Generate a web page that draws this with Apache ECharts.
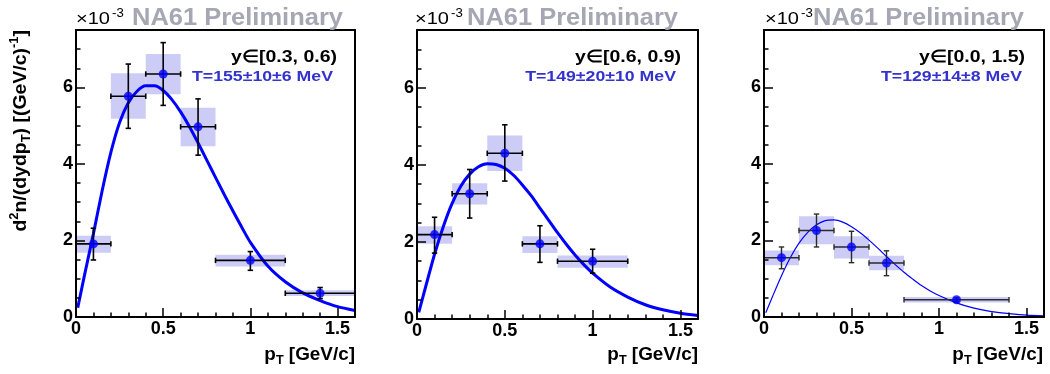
<!DOCTYPE html>
<html><head><meta charset="utf-8">
<script src="https://cdn.jsdelivr.net/npm/echarts@6/dist/echarts.min.js"></script>
<style>html,body{margin:0;padding:0;background:#fff}#c{width:1050px;height:374px}</style>
</head><body><div id="c"></div>
<script>
// ---------------- data (units of 1e-3) ----------------
const rapidityLabels = ['y\u2208[0.3, 0.6)', 'y\u2208[0.6, 0.9)', 'y\u2208[0.0, 1.5)'];
const temperatureLabels = ['T=155\u00b110\u00b16 MeV', 'T=149\u00b120\u00b110 MeV', 'T=129\u00b114\u00b18 MeV'];

const xTickLabels = [0, 0.5, 1, 1.5];
const yTickLabels = [0, 2, 4, 6];

// panel 1 : y in [0.3, 0.6)
const p1Pt      = [0.1, 0.3, 0.5, 0.7, 1.0, 1.4];
const p1BinLo   = [0.0, 0.2, 0.4, 0.6, 0.8, 1.2];
const p1BinHi   = [0.2, 0.4, 0.6, 0.8, 1.2, 1.6];
const p1Val     = [1.91, 5.77, 6.35, 4.97, 1.48, 0.62];
const p1StatLo  = [1.49, 4.93, 5.53, 4.23, 1.22, 0.48];
const p1StatHi  = [2.32, 6.61, 7.17, 5.70, 1.71, 0.77];
const p1SysLo   = [1.68, 5.18, 5.82, 4.46, 1.32, 0.55];
const p1SysHi   = [2.12, 6.37, 6.87, 5.47, 1.63, 0.70];

// panel 2 : y in [0.6, 0.9)
const p2Pt      = [0.1, 0.3, 0.5, 0.7, 1.0];
const p2BinLo   = [0.0, 0.2, 0.4, 0.6, 0.8];
const p2BinHi   = [0.2, 0.4, 0.6, 0.8, 1.2];
const p2Val     = [2.19, 3.25, 4.30, 1.95, 1.50];
const p2StatLo  = [1.71, 2.62, 3.58, 1.47, 1.19];
const p2StatHi  = [2.64, 3.88, 5.04, 2.42, 1.81];
const p2SysLo   = [1.95, 2.97, 3.84, 1.71, 1.33];
const p2SysHi   = [2.41, 3.52, 4.76, 2.15, 1.65];

// panel 3 : y in [0.0, 1.5)
const p3Pt      = [0.1, 0.3, 0.5, 0.7, 1.1];
const p3BinLo   = [0.0, 0.2, 0.4, 0.6, 0.8];
const p3BinHi   = [0.2, 0.4, 0.6, 0.8, 1.4];
const p3Val     = [1.55, 2.26, 1.83, 1.41, 0.45];
const p3StatLo  = [1.26, 1.83, 1.42, 1.08, 0.40];
const p3StatHi  = [1.83, 2.69, 2.24, 1.73, 0.50];
const p3SysLo   = [1.35, 1.90, 1.53, 1.22, 0.38];
const p3SysHi   = [1.74, 2.63, 2.11, 1.60, 0.52];

// fitted curves at these pT values
const fitPt  = [0.01, 0.05, 0.1, 0.15, 0.2, 0.25, 0.3, 0.35, 0.4, 0.45, 0.5, 0.55, 0.6, 0.65, 0.7, 0.75, 0.8, 0.85, 0.9, 0.95, 1.0, 1.1, 1.2, 1.3, 1.4, 1.5, 1.6];
const p1Fit  = [0.24, 1.12, 2.18, 3.30, 4.30, 5.08, 5.60, 5.90, 6.04, 6.04, 5.92, 5.68, 5.36, 4.98, 4.55, 4.10, 3.65, 3.20, 2.77, 2.35, 1.95, 1.33, 0.92, 0.63, 0.43, 0.27, 0.17];
const p2Fit  = [0.17, 0.85, 1.68, 2.40, 3.00, 3.45, 3.76, 3.95, 4.03, 4.01, 3.91, 3.73, 3.48, 3.20, 2.88, 2.56, 2.24, 1.94, 1.66, 1.41, 1.19, 0.83, 0.57, 0.37, 0.24, 0.15, 0.09];
const p3Fit  = [0.11, 0.55, 1.08, 1.55, 1.93, 2.21, 2.41, 2.52, 2.54, 2.48, 2.36, 2.20, 2.01, 1.80, 1.58, 1.37, 1.17, 0.99, 0.82, 0.68, 0.56, 0.37, 0.23, 0.14, 0.09, 0.05, 0.03];

// ---------------- layout / style ----------------
const FONT = '"Liberation Sans", Arial, Helvetica, sans-serif';
const BLUE = '#0000ff';
const BOX = '#ccccf6';
const grids = [
  {left: 76,  top: 30, width: 279, height: 287},
  {left: 417, top: 30, width: 281, height: 289},
  {left: 764, top: 30, width: 280, height: 287}
];
const panels = [
  {pt: p1Pt, lo: p1BinLo, hi: p1BinHi, v: p1Val, sl: p1StatLo, sh: p1StatHi, yl: p1SysLo, yh: p1SysHi, fit: p1Fit, lw: 3, err: '#000', ew: 1.6},
  {pt: p2Pt, lo: p2BinLo, hi: p2BinHi, v: p2Val, sl: p2StatLo, sh: p2StatHi, yl: p2SysLo, yh: p2SysHi, fit: p2Fit, lw: 3, err: '#000', ew: 1.6},
  {pt: p3Pt, lo: p3BinLo, hi: p3BinHi, v: p3Val, sl: p3StatLo, sh: p3StatHi, yl: p3SysLo, yh: p3SysHi, fit: p3Fit, lw: 1.2, err: '#2a2a2a', ew: 1.4}
];

const xAxes = [], yAxes = [], series = [];
const labelStyle = {color: '#000', fontSize: 18, fontWeight: 'bold', fontFamily: FONT};
const XMAX = 1.6, YMAX = 7.5;

grids.forEach((g, k) => {
  const xBase = k * 3, yBase = k * 3;
  xAxes.push({
    type: 'value', gridIndex: k, position: 'bottom', min: 0, max: XMAX, interval: 0.5, z: 10,
    axisLine: {show: true, onZero: false, lineStyle: {color: '#000', width: 2}},
    splitLine: {show: false},
    axisTick: {show: true, inside: true, length: 9, lineStyle: {color: '#000', width: 1.5}},
    axisLabel: Object.assign({show: true, margin: 3, showMinLabel: true, showMaxLabel: false,
      formatter: v => (xTickLabels.indexOf(v) >= 0 ? String(v) : '')}, labelStyle)
  });
  xAxes.push({
    type: 'value', gridIndex: k, position: 'bottom', min: 0, max: XMAX, interval: 0.1, z: 10,
    axisLine: {show: false}, splitLine: {show: false}, axisLabel: {show: false},
    axisTick: {show: true, inside: true, length: 4.5, lineStyle: {color: '#000', width: 1.5}}
  });
  xAxes.push({
    type: 'value', gridIndex: k, position: 'top', min: 0, max: XMAX, z: 10,
    axisLine: {show: true, onZero: false, lineStyle: {color: '#000', width: 2}},
    splitLine: {show: false}, axisLabel: {show: false}, axisTick: {show: false}
  });
  yAxes.push({
    type: 'value', gridIndex: k, position: 'left', min: 0, max: YMAX, interval: 2, z: 10,
    axisLine: {show: true, onZero: false, lineStyle: {color: '#000', width: 2}},
    splitLine: {show: false},
    axisTick: {show: true, inside: true, length: 9, lineStyle: {color: '#000', width: 1.5}},
    axisLabel: Object.assign({show: true, margin: 3, showMinLabel: true, showMaxLabel: false,
      formatter: v => (yTickLabels.indexOf(v) >= 0 ? String(v) : '')}, labelStyle)
  });
  yAxes.push({
    type: 'value', gridIndex: k, position: 'left', min: 0, max: YMAX, interval: 0.5, z: 10,
    axisLine: {show: false}, splitLine: {show: false}, axisLabel: {show: false},
    axisTick: {show: true, inside: true, length: 4.5, lineStyle: {color: '#000', width: 1.5}}
  });
  yAxes.push({
    type: 'value', gridIndex: k, position: 'right', min: 0, max: YMAX, z: 10,
    axisLine: {show: true, onZero: false, lineStyle: {color: '#000', width: 2}},
    splitLine: {show: false}, axisLabel: {show: false}, axisTick: {show: false}
  });

  const p = panels[k];
  const boxData = p.pt.map((x, i) => [p.lo[i], p.hi[i], p.yl[i], p.yh[i]]);
  const errData = p.pt.map((x, i) => [x, p.v[i], p.lo[i], p.hi[i], p.sl[i], p.sh[i]]);
  const ptData = p.pt.map((x, i) => [x, p.v[i]]);
  const fitData = fitPt.map((x, i) => [x, p.fit[i]]);

  series.push({
    type: 'custom', coordinateSystem: 'cartesian2d', xAxisIndex: xBase, yAxisIndex: yBase, z: 1, clip: true,
    encode: {x: [0, 1], y: [2, 3]}, data: boxData, silent: true,
    renderItem: (params, api) => {
      const a = api.coord([api.value(0), api.value(3)]);
      const b = api.coord([api.value(1), api.value(2)]);
      return {type: 'rect', shape: {x: a[0], y: a[1], width: b[0] - a[0], height: b[1] - a[1]}, style: {fill: BOX}};
    }
  });
  series.push({
    type: 'line', xAxisIndex: xBase, yAxisIndex: yBase, z: 2, data: fitData,
    smooth: 0.25, showSymbol: false, symbol: 'none', clip: true,
    lineStyle: {color: BLUE, width: p.lw}, silent: true
  });
  series.push({
    type: 'custom', coordinateSystem: 'cartesian2d', xAxisIndex: xBase, yAxisIndex: yBase, z: 3, clip: false,
    encode: {x: [0, 2, 3], y: [1, 4, 5]}, data: errData, silent: true,
    renderItem: (params, api) => {
      const x = api.value(0), y = api.value(1);
      const c = api.coord([x, y]);
      const L = api.coord([api.value(2), y]), R = api.coord([api.value(3), y]);
      const B = api.coord([x, api.value(4)]), T = api.coord([x, api.value(5)]);
      const cap = 2.7;
      const st = {stroke: p.err, lineWidth: p.ew};
      return {type: 'group', children: [
        {type: 'line', shape: {x1: L[0], y1: c[1], x2: R[0], y2: c[1]}, style: st},
        {type: 'line', shape: {x1: c[0], y1: B[1], x2: c[0], y2: T[1]}, style: st},
        {type: 'line', shape: {x1: c[0] - cap, y1: B[1], x2: c[0] + cap, y2: B[1]}, style: st},
        {type: 'line', shape: {x1: c[0] - cap, y1: T[1], x2: c[0] + cap, y2: T[1]}, style: st},
        {type: 'line', shape: {x1: L[0], y1: c[1] - cap, x2: L[0], y2: c[1] + cap}, style: st},
        {type: 'line', shape: {x1: R[0], y1: c[1] - cap, x2: R[0], y2: c[1] + cap}, style: st}
      ]};
    }
  });
  series.push({
    type: 'scatter', xAxisIndex: xBase, yAxisIndex: yBase, z: 4, data: ptData,
    symbol: 'circle', symbolSize: 9, itemStyle: {color: BLUE}, silent: true
  });
});

// ---------------- texts ----------------
const mctx = document.createElement('canvas').getContext('2d');
function natWidth(text, font) { mctx.font = font; return mctx.measureText(text).width; }

const fNA = 'bold 24px ' + FONT;
const fX10 = '17px ' + FONT;
const fExp = '12px ' + FONT;
const fY = 'bold 17px ' + FONT;
const fT = 'bold 14.5px ' + FONT;

const sNA = 211 / natWidth('NA61 Preliminary', fNA);
const sX10 = 34 / natWidth('\u00d710', fX10);
const sY = 106 / natWidth(rapidityLabels[0], fY);
const sT = 141 / natWidth(temperatureLabels[0], fT);

const naX = [132, 467, 813];
const x10X = [76, 415, 765];
const expX = [112, 451, 801];
const yLabR = [337, 681, 1025];
const tLabR = [333, 676, 1022];
const xTitleR = [355, 698, 1043];

function txt(text, x, y, font, fill, align, scaleX) {
  return {type: 'text', x: x, y: y, scaleX: scaleX || 1, z: 20, silent: true,
    style: {text: text, font: font, fill: fill, align: align, textAlign: align,
            verticalAlign: 'middle', textVerticalAlign: 'middle'}};
}

const graphics = [];
for (let k = 0; k < 3; k++) {
  graphics.push(txt('NA61 Preliminary', naX[k], 18, fNA, '#a7a7b4', 'left', sNA));
  graphics.push(txt('\u00d710', x10X[k], 19, fX10, '#000', 'left', sX10));
  graphics.push(txt('-3', expX[k], 14, fExp, '#000', 'left', 1.1));
  graphics.push(txt(rapidityLabels[k], yLabR[k], 57, fY, '#000', 'right', sY));
  graphics.push(txt(temperatureLabels[k], tLabR[k], 77, fT, '#3333cc', 'right', sT));
  graphics.push({
    type: 'text', x: xTitleR[k], y: 355, scaleX: 1.05, z: 20, silent: true,
    style: {
      text: '{m|p}{s|T}{m| [GeV/c]}', align: 'right', textAlign: 'right',
      verticalAlign: 'middle', textVerticalAlign: 'middle',
      rich: {
        m: {font: 'bold 18px ' + FONT, fill: '#000', lineHeight: 24, verticalAlign: 'middle'},
        s: {font: 'bold 12px ' + FONT, fill: '#000', lineHeight: 11, verticalAlign: 'bottom'}
      }
    }
  });
}
graphics.push({
  type: 'text', x: 21, y: 30, rotation: Math.PI / 2, scaleX: 1.08, z: 20, silent: true,
  style: {
    text: '{m|d}{u|2}{m|n/(dydp}{s|T}{m|) [(GeV/c)}{u|-1}{m|]}',
    align: 'right', textAlign: 'right', verticalAlign: 'middle', textVerticalAlign: 'middle',
    rich: {
      m: {font: 'bold 18px ' + FONT, fill: '#000', lineHeight: 24, verticalAlign: 'middle'},
      u: {font: 'bold 12px ' + FONT, fill: '#000', lineHeight: 12, verticalAlign: 'top'},
      s: {font: 'bold 12px ' + FONT, fill: '#000', lineHeight: 11, verticalAlign: 'bottom'}
    }
  }
});

const chart = echarts.init(document.getElementById('c'), null, {renderer: 'canvas'});
chart.setOption({
  animation: false,
  backgroundColor: '#fff',
  grid: grids.map(g => Object.assign({show: false, containLabel: false}, g)),
  xAxis: xAxes,
  yAxis: yAxes,
  series: series,
  graphic: {elements: graphics}
});
</script>
</body></html>
